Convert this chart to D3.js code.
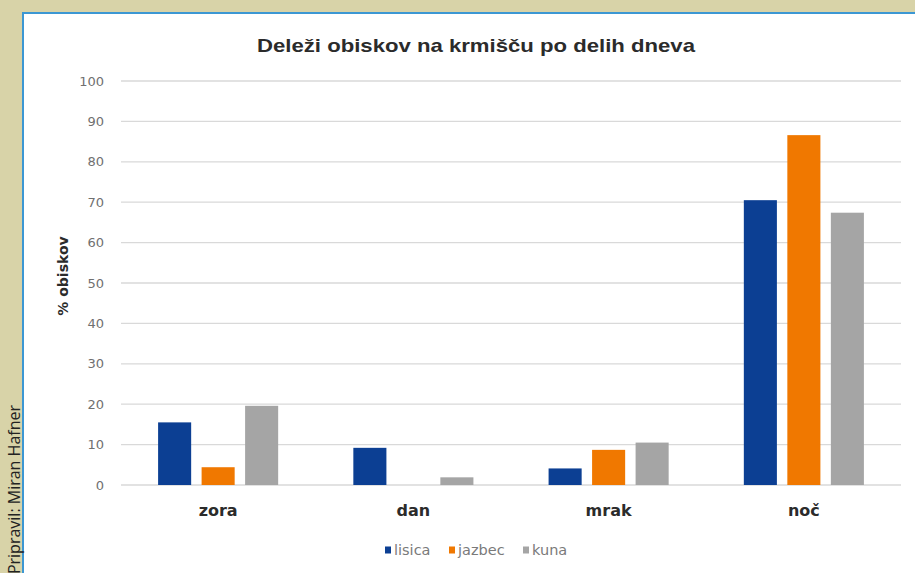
<!DOCTYPE html>
<html>
<head>
<meta charset="utf-8">
<script src="https://cdn.jsdelivr.net/npm/d3@7"></script>
<style>
  body { margin: 0; background: #d8d3a8; }
  svg { display: block; font-family: "Liberation Sans", Arial, sans-serif; }
</style>
</head>
<body>
<div id="chart"></div>
<script>
// data
var categories = ["zora", "dan", "mrak", "noč"];
var seriesNames = ["lisica", "jazbec", "kuna"];
var lisica = [15.5, 9.2, 4.1, 70.5];
var jazbec = [4.4, 0, 8.7, 86.6];
var kuna = [19.6, 1.9, 10.5, 67.4];
var yTicks = [0, 10, 20, 30, 40, 50, 60, 70, 80, 90, 100];

var colors = ["#0c3f93", "#f07800", "#a5a5a5"];

var width = 915, height = 573;

var rows = categories.map((c, i) => ({
    cat: c,
    values: [lisica[i], jazbec[i], kuna[i]]
}));

var svg = d3.select("#chart").append("svg")
    .attr("width", width)
    .attr("height", height);

// white panel with blue edge
svg.append("rect")
    .attr("x", 23).attr("y", 13)
    .attr("width", width).attr("height", height)
    .attr("fill", "#ffffff")
    .attr("stroke", "#3c97d3")
    .attr("stroke-width", 2);

var x0 = d3.scaleBand()
    .domain(categories)
    .range([121, 901])
    .paddingInner(0.385)
    .paddingOuter(0.19);

var x1 = d3.scaleBand()
    .domain(seriesNames)
    .range([0, x0.bandwidth()])
    .paddingInner(0.24);

var y = d3.scaleLinear()
    .domain([0, 100])
    .range([485, 81]);

// grid lines
svg.append("g")
    .selectAll("line")
    .data(yTicks)
    .join("line")
    .attr("x1", 121).attr("x2", 901)
    .attr("y1", d => y(d)).attr("y2", d => y(d))
    .attr("stroke", "#d9d9d9")
    .attr("stroke-width", 1.3);

// y tick labels
svg.append("g")
    .selectAll("text")
    .data(yTicks)
    .join("text")
    .attr("x", 104)
    .attr("y", d => y(d))
    .attr("dy", "0.35em")
    .attr("text-anchor", "end")
    .attr("fill", "#707070")
    .style("font-family", "'DejaVu Sans', sans-serif")
    .style("font-size", "13px")
    .text(d => d);

// bars
svg.append("g")
    .selectAll("g")
    .data(rows)
    .join("g")
    .attr("transform", d => `translate(${x0(d.cat)},0)`)
    .selectAll("rect")
    .data(d => d.values.map((v, i) => ({ key: seriesNames[i], value: v, i: i })))
    .join("rect")
    .attr("x", d => x1(d.key))
    .attr("width", x1.bandwidth())
    .attr("y", d => y(d.value))
    .attr("height", d => y(0) - y(d.value))
    .attr("fill", d => colors[d.i]);

// category labels
svg.append("g")
    .selectAll("text")
    .data(categories)
    .join("text")
    .attr("x", d => x0(d) + x0.bandwidth() / 2)
    .attr("y", 516)
    .attr("text-anchor", "middle")
    .attr("fill", "#2b2b2b")
    .style("font-family", "'DejaVu Sans', sans-serif")
    .style("font-size", "16px")
    .style("font-weight", "bold")
    .text(d => d);

// title
svg.append("text")
    .attr("x", 476)
    .attr("y", 52)
    .attr("text-anchor", "middle")
    .attr("fill", "#2b2b2b")
    .attr("textLength", 438)
    .attr("lengthAdjust", "spacingAndGlyphs")
    .style("font-size", "19px")
    .style("font-weight", "bold")
    .text("Deleži obiskov na krmišču po delih dneva");

// y axis title
svg.append("text")
    .attr("transform", "translate(68,276) rotate(-90)")
    .attr("text-anchor", "middle")
    .attr("fill", "#2b2b2b")
    .style("font-family", "'DejaVu Sans', sans-serif")
    .style("font-size", "14px")
    .style("font-weight", "bold")
    .text("% obiskov");

// legend
var legend = svg.append("g")
    .attr("transform", "translate(385,550)");
var lx = [0, 64, 138];
seriesNames.forEach((s, i) => {
    var g = legend.append("g").attr("transform", `translate(${lx[i]},0)`);
    g.append("rect")
        .attr("x", 0).attr("y", -3.5)
        .attr("width", 6).attr("height", 7)
        .attr("fill", colors[i]);
    g.append("text")
        .attr("x", 9).attr("y", 0)
        .attr("dy", "0.35em")
        .attr("fill", "#7a7a7a")
        .style("font-family", "'DejaVu Sans', sans-serif")
        .style("font-size", "14.5px")
        .text(s);
});

// author credit on the left edge
svg.append("text")
    .attr("transform", "translate(20,405) rotate(-90)")
    .attr("text-anchor", "end")
    .attr("fill", "#222")
    .style("font-family", "'Open Sans', sans-serif")
    .style("font-size", "16px")
    .text("Pripravil: Miran Hafner");
</script>
</body>
</html>
